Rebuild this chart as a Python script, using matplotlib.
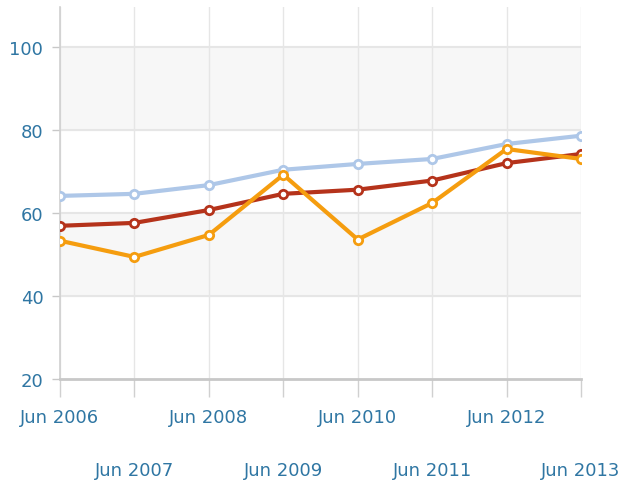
import matplotlib
matplotlib.use("Agg")
import matplotlib.pyplot as plt

years = ["Jun 2006", "Jun 2007", "Jun 2008", "Jun 2009", "Jun 2010", "Jun 2011", "Jun 2012", "Jun 2013"]
blue_vals = [64.1, 64.6, 66.7, 70.4, 71.8, 73.0, 76.6, 78.6]
red_vals = [56.9, 57.6, 60.7, 64.6, 65.6, 67.8, 72.0, 74.2]
orange_vals = [53.3, 49.4, 54.7, 69.2, 53.6, 62.4, 75.4, 73.0]
y_ticks = [20, 40, 60, 80, 100]

W, H = 633, 489
fig = plt.figure(figsize=(W / 100, H / 100), dpi=100)
ax = fig.add_axes([60 / W, (H - 380) / H, (581 - 60) / W, (380 - 8) / H])

x = list(range(len(years)))
ax.set_xlim(0, len(years) - 1)
ax.set_ylim(20, 109.6)

# alternating bands
ax.axhspan(40, 60, color="#f7f7f7", zorder=0)
ax.axhspan(80, 100, color="#f7f7f7", zorder=0)

for v in y_ticks[1:]:
    ax.axhline(v, color="#e6e6e6", lw=1.5, zorder=1)
for xi in x:
    ax.axvline(xi, color="#e6e6e6", lw=1, zorder=1)

series = [
    (blue_vals, "#aec7e8"),
    (red_vals, "#b5331b"),
    (orange_vals, "#f59d0f"),
]
for vals, col in series:
    ax.plot(x, vals, color=col, lw=3, marker="o", ms=6, mfc="white",
            mec=col, mew=2, zorder=3, solid_joinstyle="round")

for s in ["top", "right"]:
    ax.spines[s].set_visible(False)
ax.spines["left"].set_color("#d0d0d0")
ax.spines["left"].set_linewidth(1.2)
ax.spines["bottom"].set_color("#c8c8c8")
ax.spines["bottom"].set_linewidth(2)

lab_color = "#2f76a3"
ax.set_yticks(y_ticks)
ax.set_yticklabels([str(v) for v in y_ticks])
ax.tick_params(axis="y", length=6, color="#c8c8c8", width=1, pad=6,
               labelsize=13, labelcolor=lab_color)
ax.set_xticks(x)
ax.set_xticklabels(years, fontsize=13, color=lab_color)
ax.tick_params(axis="x", length=13, color="#d0d0d0", width=1, pad=8)
for i, tk in enumerate(ax.xaxis.get_major_ticks()):
    if i % 2 == 1:
        tk.set_pad(46)
for lab in ax.get_xticklabels() + ax.get_yticklabels():
    lab.set_fontfamily("DejaVu Sans")

fig.savefig("out.png", dpi=100)
